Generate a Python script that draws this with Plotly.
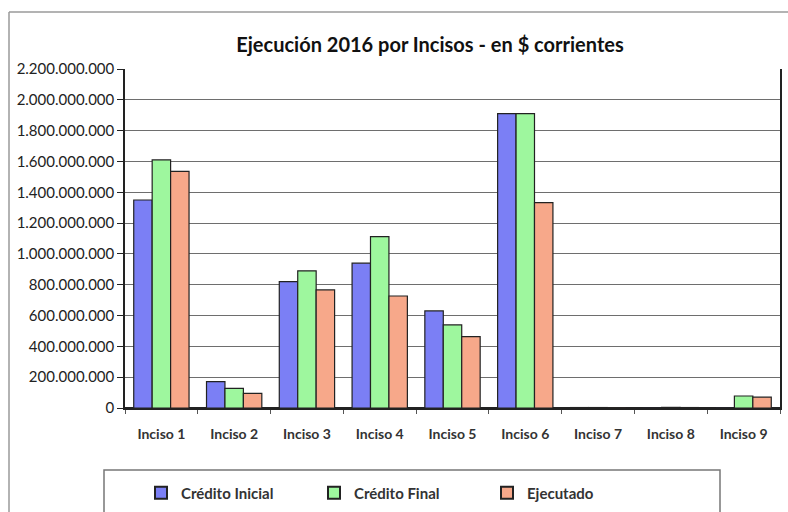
import plotly.graph_objects as go

categories = ["Inciso 1", "Inciso 2", "Inciso 3", "Inciso 4", "Inciso 5",
              "Inciso 6", "Inciso 7", "Inciso 8", "Inciso 9"]
credito_inicial = [1350e6, 171e6, 820e6, 940e6, 630e6, 1910e6, 3e6, 2e6, 1e6]
credito_final = [1610e6, 128e6, 890e6, 1112e6, 539e6, 1910e6, 3e6, 4e6, 78e6]
ejecutado = [1535e6, 95e6, 766e6, 727e6, 463e6, 1333e6, 2e6, 3e6, 70e6]
series_names = ["Crédito Inicial", "Crédito Final", "Ejecutado"]
y_tick_values = [i * 200e6 for i in range(12)]

colors = ["#7b7ff5", "#9ef79e", "#f7a88a"]
W, H = 788, 512
ML, MR, MT, MB = 125, 8, 69, 104
pw, ph = W - ML - MR, H - MT - MB

def px_x(x):
    return (x - ML) / pw

def px_y(y):
    return (H - MB - y) / ph

fig = go.Figure()
for name, vals, col in zip(series_names, [credito_inicial, credito_final, ejecutado], colors):
    fig.add_trace(go.Bar(
        x=categories, y=vals, name="<b>" + name + "</b>",
        marker=dict(color=col, line=dict(color="#222222", width=1.2)),
    ))

font = "Lato, 'Open Sans', sans-serif"
fig.update_layout(
    width=W, height=H,
    margin=dict(l=ML, r=MR, t=MT, b=MB, autoexpand=False),
    paper_bgcolor="white", plot_bgcolor="white",
    barmode="group", bargap=0.24, bargroupgap=0,
    separators=",.",
    font=dict(family=font, color="#222222"),
    title=dict(text="<b>Ejecución 2016 por Incisos - en $ corrientes</b>",
               x=430 / W, xanchor="center", y=1 - 45 / H, yanchor="middle",
               font=dict(size=20, color="#111111", family=font)),
    showlegend=True,
    legend=dict(orientation="h", x=px_x(141), xanchor="left",
                y=px_y(493), yanchor="middle",
                entrywidth=128, entrywidthmode="pixels",
                font=dict(size=15, color="#333333", family=font),
                bgcolor="rgba(0,0,0,0)", itemsizing="constant",
                itemwidth=30),
    xaxis=dict(
        showline=True, linecolor="#222222", linewidth=1.5,
        ticks="outside", ticklen=4, tickcolor="#555555", tickson="boundaries",
        tickfont=dict(size=14, color="#333333", family=font),
        tickprefix="<b>", ticksuffix="</b>",
        ticklabelstandoff=12,
        showgrid=False,
    ),
    yaxis=dict(
        range=[0, 2.2e9], tickvals=y_tick_values, tickformat=",",
        showline=True, linecolor="#222222", linewidth=1.5, mirror=True,
        ticks="outside", ticklen=6, tickcolor="#222222",
        tickfont=dict(size=15, color="#222222", family=font),
        showgrid=True, gridcolor="#6e6e6e", gridwidth=1.3,
        zeroline=True, zerolinecolor="#222222", zerolinewidth=1.5,
    ),
    shapes=[
        # outer chart border
        dict(type="line", xref="paper", yref="paper",
             x0=px_x(9), x1=px_x(9), y0=px_y(12), y1=px_y(H + 5),
             line=dict(color="#9a9a9a", width=1.5)),
        dict(type="line", xref="paper", yref="paper",
             x0=px_x(9), x1=px_x(W + 5), y0=px_y(12), y1=px_y(12),
             line=dict(color="#9a9a9a", width=1.5)),
        # legend box
        dict(type="rect", xref="paper", yref="paper",
             x0=px_x(104), x1=px_x(720), y0=px_y(470), y1=px_y(H + 5),
             line=dict(color="#777777", width=1.5), fillcolor="rgba(0,0,0,0)"),
    ],
)

fig.write_html("out.html")
